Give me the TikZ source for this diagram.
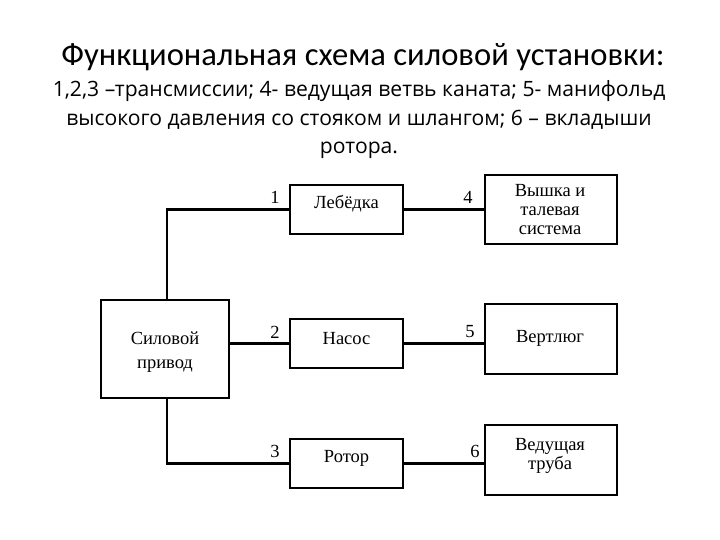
\documentclass[tikz,border=0pt]{standalone}
\usepackage{fontspec}
\setmainfont{Liberation Serif}
\newfontfamily\titlefont{Carlito}
\newfontfamily\notefont{Open Sans}
\tikzset{
    blok/.style={draw, line width=2pt},
    podpis/.style={align=center, inner sep=0pt, font=\fontsize{18.5}{19}\selectfont},
    link/.style={line width=2.2pt},
    nomer/.style={font=\fontsize{18.5}{20}\selectfont, inner sep=0pt},
}

\begin{document}
\begin{tikzpicture}[x=1pt, y=-1pt]
    \useasboundingbox (0,0) rectangle (720,540);

    \node[font=\titlefont\fontsize{32.6}{38}\selectfont] (title) at (363,57) {Функциональная схема силовой установки:};
    \node[font=\notefont\fontsize{21.1}{28.5}\selectfont, align=center] (note) at (359,120)
        {1,2,3 –трансмиссии; 4- ведущая ветвь каната; 5- манифольд\\
         высокого давления со стояком и шлангом; 6 – вкладыши\\
         ротора.};

    \node[blok, minimum width=128pt, minimum height=98pt] (privod) at (165,349) {};

    \node[blok, minimum width=113pt, minimum height=49pt] (lebedka) at (346.5,209.5) {};
    \node[blok, minimum width=113pt, minimum height=49pt] (nasos) at (346.5,343.5) {};
    \node[blok, minimum width=113pt, minimum height=49pt] (rotor) at (346.5,463.5) {};

    \node[blok, minimum width=132pt, minimum height=69pt] (vyshka) at (551,209.5) {};
    \node[blok, minimum width=132pt, minimum height=70pt] (vertlyug) at (551,339) {};
    \node[blok, minimum width=132pt, minimum height=70pt] (truba) at (551,460) {};

    \node[podpis, font=\fontsize{18.5}{24}\selectfont, yshift=-3pt] (tprivod) at (privod) {Силовой\\привод};
    \node[podpis, yshift=6pt] (tlebedka) at (lebedka) {Лебёдка};
    \node[podpis, yshift=5pt] (tnasos) at (nasos) {Насос};
    \node[podpis, yshift=5pt] (trotor) at (rotor) {Ротор};
    \node[podpis, xshift=-1pt] (tvyshka) at (vyshka) {Вышка и\\талевая\\система};
    \node[podpis, xshift=-1pt, yshift=1pt] (tvertlyug) at (vertlyug) {Вертлюг};
    \node[podpis, xshift=-1pt, yshift=4pt] (ttruba) at (truba) {Ведущая\\труба};

    \draw[link] ([xshift=2pt]privod.north) |- (lebedka.west);
    \draw[link] (privod.east |- nasos.west) -- (nasos.west);
    \draw[link] ([xshift=2pt]privod.south) |- (rotor.west);
    \draw[link] (lebedka.east) -- (lebedka.east -| vyshka.west);
    \draw[link] (nasos.east) -- (nasos.east -| vertlyug.west);
    \draw[link] (rotor.east) -- (rotor.east -| truba.west);

    \node[nomer] (n1) at (275,197) {1};
    \node[nomer] (n2) at (275,332) {2};
    \node[nomer] (n3) at (275,451) {3};
    \node[nomer] (n4) at (468,197) {4};
    \node[nomer] (n5) at (470,332) {5};
    \node[nomer] (n6) at (475,451) {6};
\end{tikzpicture}
\end{document}
